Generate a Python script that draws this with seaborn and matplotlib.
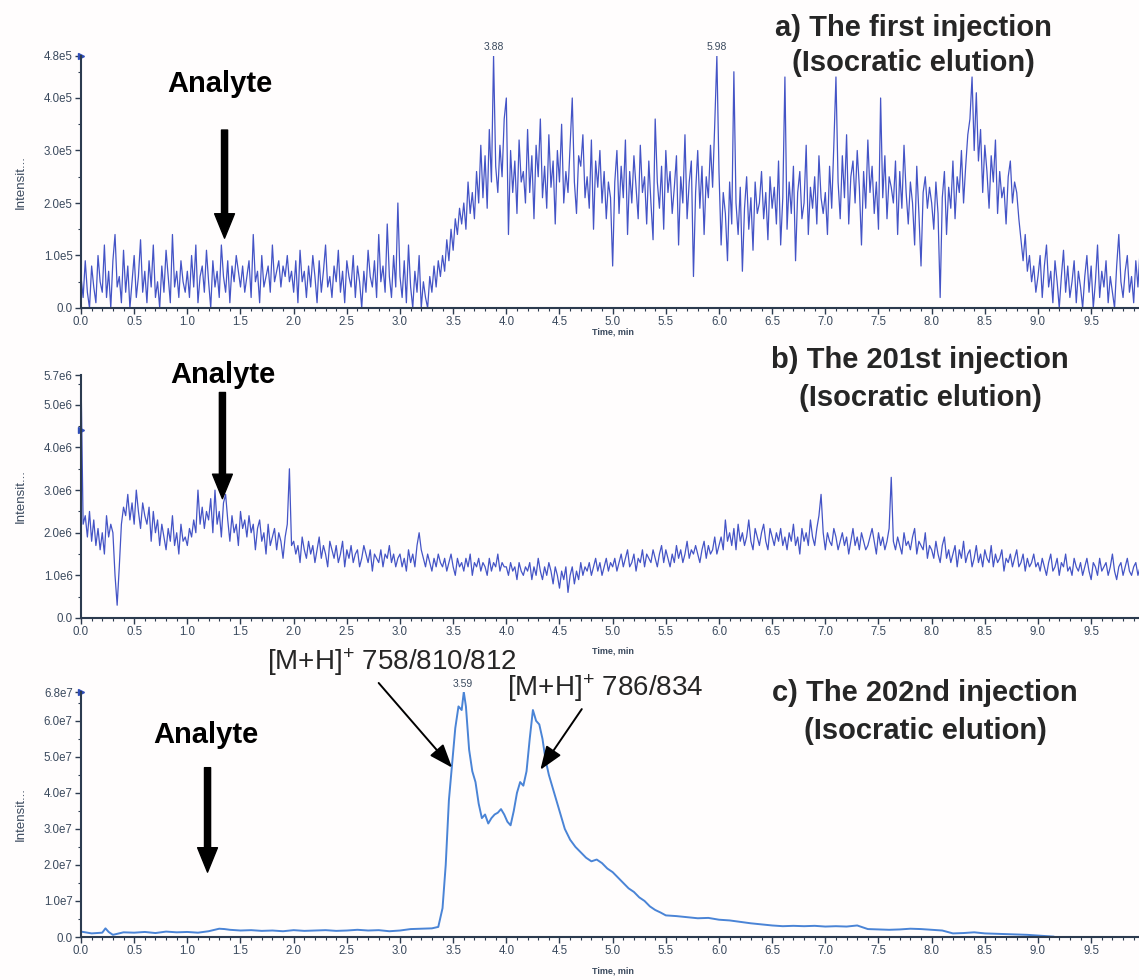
import numpy as np
import pandas as pd
import matplotlib
matplotlib.use("Agg")
import matplotlib.pyplot as plt
from matplotlib.ticker import FixedLocator, MultipleLocator
import seaborn as sns

# ---------------- data ----------------
STEP_AB = 0.02  # min between points of traces a) and b)

# a) first injection, intensity in units of 1e4 cps
a_intensity_1e4 = [
    6,2,9,3,0,8,4,1,10,5, 3,12,2,7,0,9,14,4,6,1, 11,3,8,0,5,10,2,6,13,3, 7,1,9,4,12,2,5,0,8,3, 11,6,1,14,4,7,2,9,5,3,
    7,2,10,4,12,1,6,8,3,11, 5,0,9,4,7,2,12,6,3,9, 1,8,5,10,7,4,8,3,6,9, 2,14,5,7,1,10,4,6,8,3, 12,5,7,9,4,8,6,10,5,7,
    3,9,1,11,5,7,2,8,4,10, 6,1,9,3,7,12,4,6,2,8, 5,11,3,7,1,9,6,4,10,2, 8,5,0,7,3,11,6,4,9,2, 14,5,8,3,16,6,2,10,4,20,
    6,2,9,1,12,4,0,7,3,10, 0,5,2,0,6,3,8,4,9,6, 10,7,13,9,15,11,17,14,19,16, 20,15,24,18,22,17,26,20,31,21, 29,19,34,24,48,27,22,31,25,36,
    40,14,30,22,28,18,32,24,26,20, 34,22,29,17,31,25,36,21,27,19, 33,23,28,16,30,24,35,20,26,22, 31,40,24,18,29,27,33,21,25,19, 32,15,28,23,30,20,26,17,24,21,
    8,24,30,18,27,21,32,14,26,20, 29,23,17,31,22,25,16,28,20,13, 36,24,19,27,15,30,22,26,18,23, 29,12,25,20,33,17,24,28,6,22, 30,19,27,14,25,21,31,23,35,48,
    26,12,22,18,9,24,16,45,20,14, 23,7,19,25,15,21,11,24,18,20, 26,17,22,13,25,19,23,16,28,12, 21,44,15,24,18,27,9,22,26,17, 20,31,14,23,19,25,16,29,21,18,
    22,14,27,19,31,44,24,17,29,21, 33,16,25,28,20,30,23,12,26,19, 32,22,27,18,24,15,40,21,29,17, 25,23,20,28,14,26,19,31,22,16, 24,20,12,27,18,8,22,25,19,23,
    20,15,24,18,2,21,26,14,23,19, 28,17,25,22,30,20,27,33,36,44, 30,41,28,34,22,31,26,19,29,24, 32,18,26,21,23,16,25,28,20,24, 22,17,13,9,14,7,10,5,8,3,
    6,10,2,8,12,4,7,1,9,5, 0,6,11,3,8,2,5,9,1,7, 4,0,6,10,3,8,0,5,12,2, 7,4,9,1,6,3,0,8,14,5, 2,7,10,3,6,1,9,4,11,6,
]

# b) 201st injection, intensity in units of 1e5 cps
b_intensity_1e5 = [
    57,22,24,19,25,18,23,17,21,16, 20,15,24,19,22,20,10,3,12,22, 26,24,29,23,27,22,30,25,21,27, 24,22,26,18,25,20,23,17,22,19, 16,21,18,24,17,20,15,22,18,19,
    17,21,19,23,20,30,22,26,21,25, 23,28,20,30,22,25,19,27,29,23, 18,24,20,22,17,25,21,23,19,24, 20,22,16,21,23,18,20,15,22,17, 19,21,16,20,18,14,19,22,35,17,
    18,15,17,13,19,16,14,18,15,17, 13,16,19,14,17,15,12,18,16,14, 17,13,15,18,12,16,14,17,13,15, 16,12,14,17,15,13,16,11,15,14, 13,16,12,15,14,17,13,15,12,14,
    15,12,14,11,16,13,15,12,17,20, 16,14,12,15,13,11,14,12,15,13, 12,14,11,13,15,12,10,14,12,13, 11,14,12,15,10,13,12,14,11,13, 12,10,14,11,13,12,15,11,13,12,
    12,10,13,11,12,9,13,11,10,12, 11,13,9,12,10,14,11,9,12,10, 13,11,8,12,10,7,11,9,12,6, 10,12,8,11,9,13,10,12,11,13, 10,12,14,11,13,10,12,14,11,13,
    12,14,11,13,15,12,14,16,12,13, 15,11,14,13,16,12,15,14,13,16, 14,12,15,17,13,16,14,12,15,13, 17,14,16,13,15,18,14,16,15,17, 15,13,16,18,14,17,15,16,19,15,
    17,19,16,23,18,20,17,21,16,22, 18,20,17,19,23,18,16,21,19,17, 20,22,18,16,21,19,17,20,18,21, 17,19,16,20,18,22,17,19,15,21, 18,20,17,23,19,17,21,24,29,20,
    16,20,18,17,21,19,16,18,20,17, 19,15,18,21,17,19,16,20,18,16, 17,19,21,18,15,20,17,19,16,18, 21,33,18,16,19,17,15,20,17,18, 16,19,21,15,18,17,16,20,14,17,
    16,14,18,15,13,17,19,14,16,13, 15,17,12,16,14,18,13,15,16,12, 14,17,13,15,12,16,14,13,17,12, 15,13,14,16,11,14,13,15,12,14, 16,12,13,15,11,14,12,13,15,12,
    13,11,14,12,10,13,15,11,12,14, 10,13,12,15,11,12,10,14,12,11, 13,10,12,14,11,9,13,12,10,14, 11,12,13,10,12,15,11,9,12,13, 10,12,14,11,10,12,13,10,12,11,
]

# c) 202nd injection, time (min) and intensity in units of 1e6 cps
c_time = [0.0,0.1,0.2,0.23,0.26,0.3,0.4,0.5,0.6,0.7,0.8,0.9,1.0,1.1,1.2,1.3,1.35,1.4,1.5,1.6,
          1.7,1.8,1.9,2.0,2.1,2.2,2.3,2.4,2.5,2.6,2.7,2.8,2.9,3.0,3.1,3.2,3.3,3.36,3.40,3.43,
          3.46,3.49,3.52,3.55,3.58,3.60,3.62,3.65,3.68,3.71,3.74,3.77,3.80,3.83,3.86,3.89,3.92,3.95,3.98,4.01,
          4.04,4.07,4.10,4.13,4.16,4.19,4.22,4.25,4.28,4.31,4.34,4.37,4.40,4.43,4.46,4.50,4.55,4.60,4.65,4.70,
          4.75,4.80,4.85,4.90,4.95,5.0,5.05,5.1,5.15,5.2,5.25,5.3,5.35,5.4,5.45,5.5,5.6,5.7,5.8,5.9,
          6.0,6.1,6.2,6.3,6.4,6.5,6.6,6.7,6.8,6.9,7.0,7.1,7.2,7.3,7.4,7.5,7.6,7.7,7.8,7.9,
          8.0,8.1,8.2,8.3,8.4,8.5,8.6,8.7,8.8,8.9,9.0,9.1,9.15]
c_intensity_1e6 = [1.5,1.0,1.2,2.4,1.4,0.6,1.3,1.2,1.4,1.1,1.5,1.3,1.4,1.2,1.6,2.3,2.2,2.0,1.8,1.9,
                   1.7,1.8,1.6,1.9,1.7,1.8,1.9,1.7,1.8,2.0,1.8,1.9,1.6,1.8,2.2,2.3,2.4,2.8,8,20,
                   38,48,58,64,63,68,64,52,46,43,37,33,34,31.5,33,34,34.5,35.5,34,32,
                   31,35,40,43,42,46,55,63,60,59,55,49,45,42,39,35,30,27,25,23.5,
                   22,21,21.5,20.5,19,18,16.5,15,13.5,12.5,11,10,8.5,7.5,6.8,6.0,5.8,5.5,5.2,5.3,
                   4.8,4.6,4.2,3.8,3.5,3.2,3.0,3.1,3.0,3.1,2.9,3.0,2.9,3.2,2.2,2.1,2.0,2.1,2.3,2.2,
                   2.0,1.8,1.0,1.1,1.3,1.0,0.9,0.8,0.7,0.6,0.4,0.2,0.1]

x_ticks = [0.0,0.5,1.0,1.5,2.0,2.5,3.0,3.5,4.0,4.5,5.0,5.5,6.0,6.5,7.0,7.5,8.0,8.5,9.0,9.5]
x_ticklabels = [f"{t:.1f}" for t in x_ticks]

a_yticks = [0, 1e5, 2e5, 3e5, 4e5, 4.8e5]
a_yticklabels = ["0.0", "1.0e5", "2.0e5", "3.0e5", "4.0e5", "4.8e5"]
b_yticks = [0, 1e6, 2e6, 3e6, 4e6, 5e6, 5.7e6]
b_yticklabels = ["0.0", "1.0e6", "2.0e6", "3.0e6", "4.0e6", "5.0e6", "5.7e6"]
c_yticks = [0, 1e7, 2e7, 3e7, 4e7, 5e7, 6e7, 6.8e7]
c_yticklabels = ["0.0", "1.0e7", "2.0e7", "3.0e7", "4.0e7", "5.0e7", "6.0e7", "6.8e7"]

a_peak_labels = [(3.88, 4.8e5, "3.88"), (5.98, 4.8e5, "5.98")]
c_peak_labels = [(3.59, 6.8e7, "3.59")]
marker_levels = [4.8e5, 4.4e6, 6.8e7]   # small axis-range markers (a, b, c)

titles = ["a) The first injection", "b) The 201st injection", "c) The 202nd injection"]
subtitle = "(Isocratic elution)"

# ---------------- style ----------------
sns.set_theme(style="ticks")
plt.rcParams["font.family"] = ["Liberation Sans", "DejaVu Sans"]
plt.rcParams["mathtext.fontset"] = "custom"
plt.rcParams["mathtext.rm"] = "Liberation Sans"
plt.rcParams["mathtext.it"] = "Liberation Sans"
plt.rcParams["mathtext.bf"] = "Liberation Sans:bold"

AXC = "#2c3b4f"
TICKC = "#3a495d"
TRACE_AB = "#4454c6"
TRACE_C = "#4a84d6"

W, H = 1139, 980
fig = plt.figure(figsize=(W / 100, H / 100), dpi=100)
fig.patch.set_facecolor("#fffdfd")

def px_axes(left, top, bottom):
    return fig.add_axes([left / W, 1 - bottom / H, (W - left) / W, (bottom - top) / H])

ax_a = px_axes(81, 56, 308)
ax_b = px_axes(81, 375, 618)
ax_c = px_axes(81, 692, 937)

df_a = pd.DataFrame({"time": np.arange(len(a_intensity_1e4)) * STEP_AB,
                     "intensity": np.array(a_intensity_1e4, float) * 1e4})
df_b = pd.DataFrame({"time": np.arange(len(b_intensity_1e5)) * STEP_AB,
                     "intensity": np.array(b_intensity_1e5, float) * 1e5})
df_c = pd.DataFrame({"time": c_time, "intensity": np.array(c_intensity_1e6, float) * 1e6})

sns.lineplot(data=df_a, x="time", y="intensity", ax=ax_a, color=TRACE_AB, lw=0.9, estimator=None)
sns.lineplot(data=df_b, x="time", y="intensity", ax=ax_b, color=TRACE_AB, lw=0.9, estimator=None)
sns.lineplot(data=df_c, x="time", y="intensity", ax=ax_c, color=TRACE_C, lw=1.4, estimator=None)

for ax, yt, ytl, ymax, minor, mk, tlab in [
        (ax_a, a_yticks, a_yticklabels, 4.8e5, 5e4, marker_levels[0], -24),
        (ax_b, b_yticks, b_yticklabels, 5.7e6, 5e5, marker_levels[1], -33),
        (ax_c, c_yticks, c_yticklabels, 6.8e7, 5e6, marker_levels[2], -34)]:
    ax.set_facecolor("none")
    ax.set_xlim(0, 9.95)
    ax.set_ylim(0, ymax)
    ax.xaxis.set_major_locator(FixedLocator(x_ticks))
    ax.set_xticklabels(x_ticklabels)
    ax.xaxis.set_minor_locator(MultipleLocator(0.1))
    ax.yaxis.set_major_locator(FixedLocator(yt))
    ax.set_yticklabels(ytl)
    ax.yaxis.set_minor_locator(MultipleLocator(minor))
    for s in ("top", "right"):
        ax.spines[s].set_visible(False)
    for s in ("left", "bottom"):
        ax.spines[s].set_color(AXC)
        ax.spines[s].set_linewidth(1.5)
    ax.tick_params(which="major", length=4, width=1.0, color=AXC, labelsize=8.3,
                   labelcolor=TICKC, pad=2)
    ax.tick_params(which="minor", length=2, width=0.8, color=AXC)
    ax.set_xlabel("")
    ax.set_ylabel("Intensit...", fontsize=9.5, color=TICKC)
    ax.yaxis.set_label_coords(-54 / (W - 81), 0.5)
    ax.annotate("Time, min", xy=(5.0, 0), xycoords=("data", "axes fraction"),
                xytext=(0, tlab), textcoords="offset pixels",
                ha="center", va="center", fontsize=6.5, color=TICKC, fontweight="bold")
    ax.plot([0], [mk], marker=">", ms=5, color="#2f4db8", clip_on=False)

# peak labels
for x, y, t in a_peak_labels:
    ax_a.annotate(t, xy=(x, y), xytext=(0, 4), textcoords="offset pixels",
                  ha="center", va="bottom", fontsize=7.5, color=TICKC)
for x, y, t in c_peak_labels:
    ax_c.annotate(t, xy=(x, y), xytext=(0, 3), textcoords="offset pixels",
                  ha="center", va="bottom", fontsize=7.5, color=TICKC)

# analyte labels and arrows
thick = dict(arrowstyle="simple,head_length=0.8,head_width=0.65,tail_width=0.2",
             color="black", mutation_scale=22, shrinkA=0, shrinkB=0)
for ax, lab_xy, tail, tip in [(ax_a, (1.31, 4.26e5), (1.35, 3.39e5), (1.35, 1.33e5)),
                              (ax_b, (1.33, 5.7e6), (1.33, 5.29e6), (1.33, 2.8e6)),
                              (ax_c, (1.17, 5.6e7), (1.19, 4.7e7), (1.19, 1.8e7))]:
    ax.text(lab_xy[0], lab_xy[1], "Analyte", ha="center", va="center", fontsize=21,
            fontweight="bold", color="black", clip_on=False)
    ax.annotate("", xy=tip, xytext=tail, arrowprops=thick, annotation_clip=False)

# panel titles
for (xc, y1, y2), t in zip([(913, 28, 63), (920, 360, 398), (925, 693, 731)], titles):
    fig.text(xc / W, 1 - y1 / H, t, ha="center", va="center", fontsize=21, fontweight="bold")
    fig.text(xc / W, 1 - y2 / H, subtitle, ha="center", va="center", fontsize=21, fontweight="bold")

# ion annotations in c)
thin = dict(arrowstyle="-|>,head_length=0.8,head_width=0.3", color="black", lw=1.4,
            mutation_scale=18, shrinkA=2, shrinkB=0)
ax_c.annotate(r"[M+H]$^{+}$ 758/810/812", xy=(3.49, 4.7e7), xytext=(2.92, 7.64e7),
              ha="center", va="center", fontsize=20, annotation_clip=False,
              arrowprops=dict(thin, relpos=(0.43, 0.0)))
ax_c.annotate(r"[M+H]$^{+}$ 786/834", xy=(4.32, 4.64e7), xytext=(4.93, 6.92e7),
              ha="center", va="center", fontsize=20, annotation_clip=False,
              arrowprops=dict(thin, relpos=(0.4, 0.0)))

fig.savefig("out.png", dpi=100, facecolor=fig.get_facecolor())
